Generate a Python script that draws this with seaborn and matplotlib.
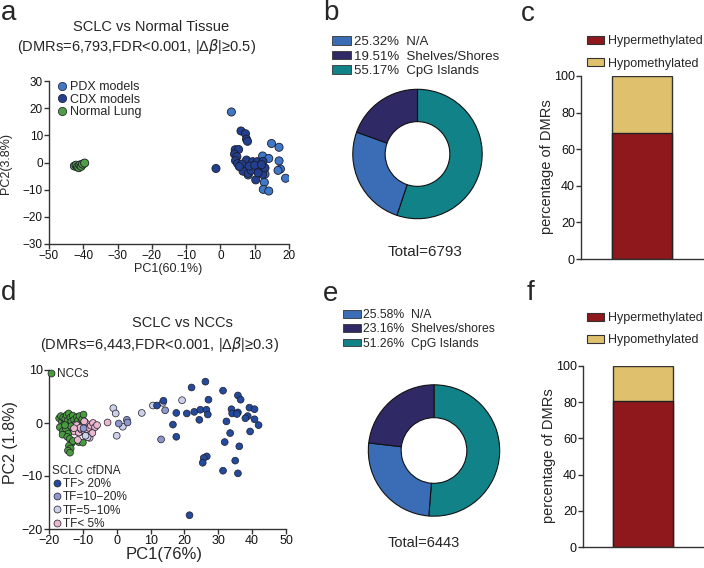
import numpy as np
import pandas as pd
import matplotlib
matplotlib.use("Agg")
import matplotlib.pyplot as plt
import seaborn as sns
from matplotlib.lines import Line2D
from matplotlib.patches import Patch

sns.set_theme(style="ticks")
plt.rcParams['font.family'] = ['Liberation Sans', 'DejaVu Sans']
plt.rcParams['axes.linewidth'] = 1.0
plt.rcParams['axes.edgecolor'] = '#333333'
plt.rcParams['xtick.color'] = '#333333'
plt.rcParams['ytick.color'] = '#333333'
plt.rcParams['xtick.labelcolor'] = '#111111'
plt.rcParams['ytick.labelcolor'] = '#111111'

# ---------------- data ----------------
# panel a : PCA SCLC vs normal tissue
pdx_pc1 = [3.2, 14.9, 17.1, 12.3, 14.1, 17.1, 17.5, 16.8, 19.0, 12.8, 12.5, 14.1, 13.0, 11.5, 8.1]
pdx_pc2 = [18.6, 7.0, 5.6, 2.4, 1.5, 0.6, -2.4, -2.9, -5.8, -7.3, -9.9, -10.5, -4.3, -0.5, -4.6]
cdx_pc1 = [6.0, 7.3, 7.6, 7.9, 4.3, 5.3, 4.1, 4.8, 4.4, 5.0, 7.6, 9.4, 10.7, 12.4, -1.3,
           6.6, 8.1, 9.9, 11.2, 12.7, 12.3, 10.3, 9.0, 11.0, 13.0, 8.4, 6.2, 10.0, 12.0, 5.5]
cdx_pc2 = [11.6, 10.6, 8.6, 7.8, 4.7, 4.8, 3.1, 2.2, 0.7, -0.4, 0.9, 0.3, 0.3, 0.4, -2.2,
           -3.2, -4.0, -2.6, -1.9, -2.3, -4.4, -6.4, -2.9, -3.8, -2.0, -1.3, -0.6, -1.0, -0.8, -1.5]
lung_pc1 = [-42.6, -42.1, -41.7, -41.3, -41.0, -40.6, -40.2, -39.6]
lung_pc2 = [-1.3, -1.0, -1.6, -1.9, -0.9, -1.4, -0.6, -0.2]

# panel d : PCA SCLC cfDNA vs NCCs
ncc_pc1 = [-17.0, -16.5, -16.2, -15.8, -15.5, -15.2, -14.8, -14.5, -14.2, -14.0, -13.7, -13.4,
           -13.0, -12.6, -12.2, -11.8, -11.4, -11.0, -10.6, -10.2, -9.8, -9.4, -9.0, -16.8,
           -15.9, -15.0, -14.3, -13.5, -12.8, -11.9, -11.1, -10.3, -9.5, -16.0, -15.3, -14.6,
           -13.9, -13.3, -14.1, -13.6, -14.4, -13.8, -12.9, -11.2, -10.0, -8.8]
ncc_pc2 = [0.9, 1.3, 0.2, 1.0, -0.2, 0.8, 1.5, 0.4, 1.8, -0.3, 1.0, 0.3,
           1.4, 0.6, -0.2, 1.1, 0.5, 1.3, 0.0, 0.7, 1.6, 0.2, -0.4, -0.8,
           -1.5, -1.1, -2.0, -0.6, -1.3, -0.9, -1.8, -0.5, -1.0, -2.2, -0.4, -2.6,
           -3.0, -3.8, -4.3, -4.8, -5.2, -5.6, -3.4, -3.6, -3.7, -0.8]
tf20_pc1 = [26.2, 22.1, 31.4, 35.8, 36.6, 27.1, 13.8, 11.9, 22.9, 24.7, 26.5, 20.7, 17.6, 26.9,
            33.9, 35.8, 34.1, 35.5, 39.2, 40.7, 38.7, 38.0, 40.7, 41.9, 24.4, 32.4, 16.6, 17.6,
            39.4, 33.5, 31.9, 36.2, 26.6, 25.7, 25.4, 35.0, 31.4, 35.8, 21.5]
tf20_pc2 = [7.8, 6.7, 6.1, 5.2, 4.4, 4.4, 4.2, 3.3, 2.1, 2.5, 2.5, 1.8, 1.9, 1.6,
            2.6, 2.0, 1.8, 1.7, 2.9, 2.6, 1.3, 0.9, 0.7, -0.4, 0.6, 0.3, -0.3, -2.6,
            -1.6, -1.9, -3.6, -4.4, -6.3, -6.6, -7.5, -7.1, -9.0, -9.5, -17.4]
tf10_pc1 = [3.0, 3.2, 0.6, 13.1, 14.3, -9.8]
tf10_pc2 = [0.6, 0.1, -0.1, -3.1, 2.4, -1.0]
tf5_pc1 = [-1.0, -0.3, 0.0, 1.8, 7.4, 10.7, 13.6, 19.3, -8.6, -9.2]
tf5_pc2 = [2.8, 1.8, -2.4, -0.7, 1.9, 3.3, 3.8, 4.3, -2.7, -2.4]
tflow_pc1 = [-12.5, -11.8, -11.2, -10.5, -10.0, -9.4, -8.8, -8.2, -7.6, -7.0, -6.4, -5.8,
             -9.0, -10.8, -11.5, -8.0, -12.6, -2.7, -9.6, -7.2]
tflow_pc2 = [-1.6, -0.4, -1.8, -1.2, -0.6, -1.5, -0.2, -0.9, -0.5, 0.0, -0.8, -0.4,
             -2.4, -0.9, -3.2, -2.8, -1.0, 0.1, 0.3, -1.9]

# panels b / e : genomic context of DMRs
region_names_b = ["N/A", "Shelves/Shores", "CpG Islands"]
region_pct_b = [25.32, 19.51, 55.17]
total_b = 6793
region_names_e = ["N/A", "Shelves/shores", "CpG Islands"]
region_pct_e = [25.58, 23.16, 51.26]
total_e = 6443

# panels c / f : direction of methylation change
direction = ["Hypermethylated", "Hypomethylated"]
hyper_c = 68.9
hyper_f = 80.9

# ---------------- styles ----------------
col_pdx, col_cdx, col_lung = '#3f78c9', '#22408f', '#4f9d45'
col_ncc = '#4a9a3e'
col_tf = ['#244a9e', '#8d97cb', '#ccd0ea', '#eab7cf']
col_na, col_shelf, col_cpg = '#3a6db5', '#2f2966', '#128289'
col_hyper, col_hypo = '#8e181c', '#dfc06d'
EDGE = '#1c1c28'

W, H = 704, 568
fig = plt.figure(figsize=(W / 100, H / 100), dpi=100)


def rect(l, t, r, b):
    return [l / W, 1 - b / H, (r - l) / W, (b - t) / H]


def fx(px):
    return px / W


def fy(py):
    return 1 - py / H


def style_axes(ax, fs):
    sns.despine(ax=ax)
    ax.tick_params(length=3.6, width=1, labelsize=fs, pad=0.8)
    ax.grid(False)


# panel letters
for lab, x, y in [('a', 1, 13), ('b', 323, 13), ('c', 521, 14),
                  ('d', 1, 293), ('e', 323, 294), ('f', 527, 293)]:
    fig.text(fx(x), fy(y), lab, fontsize=20, ha='left', va='center')

# ---------------- panel a ----------------
ax_a = fig.add_axes(rect(49, 81, 289, 244))
df_a = pd.DataFrame({
    'pc1': pdx_pc1 + cdx_pc1 + lung_pc1,
    'pc2': pdx_pc2 + cdx_pc2 + lung_pc2,
    'group': ['PDX models'] * len(pdx_pc1) + ['CDX models'] * len(cdx_pc1) + ['Normal Lung'] * len(lung_pc1),
})
pal_a = {'PDX models': col_pdx, 'CDX models': col_cdx, 'Normal Lung': col_lung}
sns.scatterplot(data=df_a, x='pc1', y='pc2', hue='group', palette=pal_a, s=34,
                edgecolor=EDGE, linewidth=0.6, legend=False, ax=ax_a, zorder=3)
ax_a.set_xlim(-50, 20)
ax_a.set_ylim(-30, 30)
ax_a.set_xticks(range(-50, 21, 10))
ax_a.set_yticks(range(-30, 31, 10))
ax_a.set_xlabel('')
ax_a.set_ylabel('')
style_axes(ax_a, 8.5)
fig.text(fx(168), fy(269), 'PC1(60.1%)', fontsize=9, ha='center', va='center')
fig.text(fx(6), fy(163), 'PC2(3.8%)', fontsize=9, ha='center', va='center', rotation=90)
fig.text(fx(151), fy(27), 'SCLC vs Normal Tissue', fontsize=10.5, ha='center', va='center')
fig.text(fx(137), fy(46), '(DMRs=6,793,FDR<0.001, |Δ$\\beta$|≥0.5)', fontsize=10.5,
         ha='center', va='center')
h_a = [Line2D([], [], marker='o', ls='', markersize=6, markerfacecolor=pal_a[k],
              markeredgecolor=EDGE, markeredgewidth=0.5) for k in pal_a]
ax_a.legend(h_a, list(pal_a), loc='upper left', bbox_to_anchor=(fx(56), fy(81)),
            bbox_transform=fig.transFigure, frameon=False, fontsize=9, handlelength=1.0,
            handletextpad=0.1, borderpad=0, borderaxespad=0, labelspacing=0.05)

# ---------------- panel d ----------------
ax_d = fig.add_axes(rect(49, 370, 286, 529))
df_d = pd.DataFrame({
    'pc1': ncc_pc1 + tflow_pc1 + tf5_pc1 + tf10_pc1 + tf20_pc1,
    'pc2': ncc_pc2 + tflow_pc2 + tf5_pc2 + tf10_pc2 + tf20_pc2,
    'group': ['NCCs'] * len(ncc_pc1) + ['TF< 5%'] * len(tflow_pc1) + ['TF=5\u221210%'] * len(tf5_pc1)
             + ['TF=10\u221220%'] * len(tf10_pc1) + ['TF> 20%'] * len(tf20_pc1),
})
pal_d = {'NCCs': col_ncc, 'TF> 20%': col_tf[0], 'TF=10\u221220%': col_tf[1],
         'TF=5\u221210%': col_tf[2], 'TF< 5%': col_tf[3]}
sns.scatterplot(data=df_d, x='pc1', y='pc2', hue='group', palette=pal_d, s=24,
                edgecolor=EDGE, linewidth=0.5, legend=False, ax=ax_d, zorder=3)
ax_d.set_xlim(-20, 50)
ax_d.set_ylim(-20, 10)
ax_d.set_xticks(range(-20, 51, 10))
ax_d.set_yticks([-20, -10, 0, 10])
ax_d.set_xlabel('')
ax_d.set_ylabel('')
style_axes(ax_d, 9)
fig.text(fx(164), fy(555), 'PC1(76%)', fontsize=12, ha='center', va='center')
fig.text(fx(11), fy(443), 'PC2 (1.8%)', fontsize=11.5, ha='center', va='center', rotation=90)
fig.text(fx(182), fy(323), 'SCLC vs NCCs', fontsize=10.5, ha='center', va='center')
fig.text(fx(160), fy(345), '(DMRs=6,443,FDR<0.001, |Δ$\\beta$|≥0.3)', fontsize=10.5,
         ha='center', va='center')


def mk(c):
    return Line2D([], [], marker='o', ls='', markersize=5, markerfacecolor=c,
                  markeredgecolor=EDGE, markeredgewidth=0.5)


leg1 = ax_d.legend([mk(col_ncc)], ['NCCs'], loc='upper left', bbox_to_anchor=(fx(46), fy(368)),
                   bbox_transform=fig.transFigure, frameon=False, fontsize=8.5, handlelength=0.8,
                   handletextpad=0.1, borderpad=0, borderaxespad=0)
ax_d.add_artist(leg1)
tf_labels = ['TF> 20%', 'TF=10\u221220%', 'TF=5\u221210%', 'TF< 5%']
ax_d.legend([mk(pal_d[k]) for k in tf_labels], tf_labels, title='SCLC cfDNA',
            title_fontsize=8.5, alignment='left', loc='upper left',
            bbox_to_anchor=(fx(52), fy(465)), bbox_transform=fig.transFigure, frameon=False,
            fontsize=8.5, handlelength=0.8, handletextpad=0.1, borderpad=0, borderaxespad=0,
            labelspacing=0.1)


# ---------------- donuts b / e ----------------
def donut(cx, cy, r, pcts, names, total, leg_xy, leg_fs, leg_sp, tot_xy, tot_fs):
    ax = fig.add_axes(rect(cx - r, cy - r, cx + r, cy + r))
    order = [2, 0, 1]
    cols = [col_na, col_shelf, col_cpg]
    ax.pie([pcts[i] for i in order], colors=[cols[i] for i in order], startangle=90,
           counterclock=False, radius=1,
           wedgeprops=dict(width=0.5, edgecolor='#111111', linewidth=0.8))
    ax.set_xlim(-1.02, 1.02)
    ax.set_ylim(-1.02, 1.02)
    ax.set_aspect('auto')
    ax.axis('off')
    hs = [Patch(facecolor=cols[i], edgecolor='#333333', linewidth=0.6) for i in range(3)]
    labs = [f"{pcts[i]:.2f}%  {names[i]}" for i in range(3)]
    ax.legend(hs, labs, loc='upper left', bbox_to_anchor=(fx(leg_xy[0]), fy(leg_xy[1])),
              bbox_transform=fig.transFigure, frameon=False, fontsize=leg_fs,
              handlelength=1.45, handleheight=0.6, handletextpad=0.2, borderpad=0,
              borderaxespad=0, labelspacing=leg_sp)
    fig.text(fx(tot_xy[0]), fy(tot_xy[1]), f"Total={total}", fontsize=tot_fs,
             ha='center', va='center')


donut(417.5, 154, 66, region_pct_b, region_names_b, total_b, (332, 36), 9.5, 0.2,
      (425, 252), 11)
donut(434, 450.5, 67, region_pct_e, region_names_e, total_e, (343, 309), 8.8, 0.2,
      (424, 543), 10.5)


# ---------------- stacked bars c / f ----------------
def stacked(l, t, b, bar_l, bar_r, hyper, leg_xy, leg_sp):
    ax = fig.add_axes(rect(l, t, 704, b))
    df = pd.DataFrame({'cat': ['DMR'], 'total': [100.0], 'hyper': [hyper]})
    sns.barplot(data=df, x='cat', y='total', color=col_hypo, saturation=1, width=0.6,
                edgecolor='#333333', linewidth=1, ax=ax)
    sns.barplot(data=df, x='cat', y='hyper', color=col_hyper, saturation=1, width=0.6,
                edgecolor='#222222', linewidth=1, ax=ax)
    scale = (bar_r - bar_l) / 0.6
    ax.set_xlim(-0.3 - (bar_l - l) / scale, 0.3 + (704 - bar_r) / scale)
    ax.set_ylim(0, 100)
    ax.set_yticks(range(0, 101, 20))
    ax.set_xticks([])
    ax.set_xlabel('')
    ax.set_ylabel('')
    style_axes(ax, 9)
    fig.text(fx(l - 34), fy((t + b) / 2 - 1), 'percentage of DMRs', fontsize=10.5,
             rotation=90, ha='center', va='center')
    hs = [Patch(facecolor=col_hyper, edgecolor='#333333', linewidth=0.8),
          Patch(facecolor=col_hypo, edgecolor='#333333', linewidth=0.8)]
    ax.legend(hs, direction, loc='upper left', bbox_to_anchor=(fx(leg_xy[0]), fy(leg_xy[1])),
              bbox_transform=fig.transFigure, frameon=False, fontsize=9,
              handlelength=1.35, handleheight=0.6, handletextpad=0.3, borderpad=0,
              borderaxespad=0, labelspacing=leg_sp)


stacked(581, 76, 259, 612, 672, hyper_c, (587, 35), 0.85)
stacked(583, 366, 547, 613, 673, hyper_f, (587, 312), 0.8)

fig.savefig('out.png', dpi=100)
